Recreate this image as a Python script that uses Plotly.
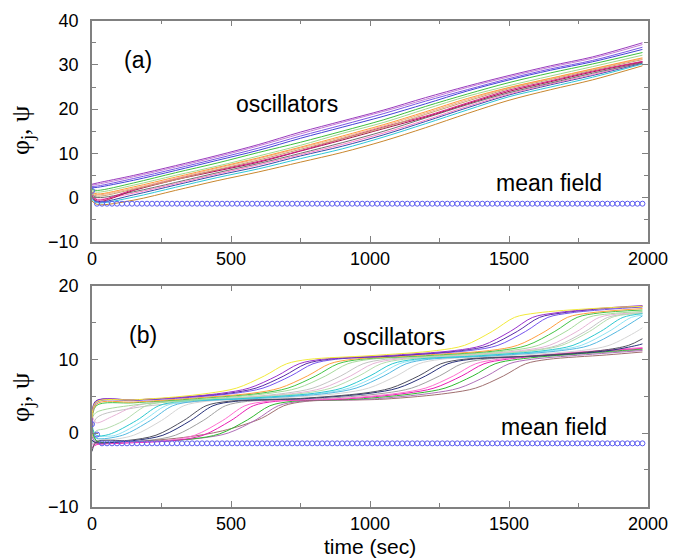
import plotly.graph_objects as go

# ---------------- Panel (a) data ----------------
t_a = [0, 20, 150, 300, 450, 600, 750, 900, 1050, 1200, 1350, 1500, 1650, 1800, 1980]
a_purple   = [3.0, 3.3, 5.0, 7.2, 9.5, 12.0, 14.8, 17.3, 19.8, 22.6, 25.2, 27.6, 29.8, 31.8, 35.0]
a_lilac    = [2.8, 3.0, 4.7, 6.9, 9.2, 11.7, 14.4, 17.0, 19.5, 22.2, 24.9, 27.3, 29.5, 31.5, 34.6]
a_violet   = [2.5, 2.6, 4.3, 6.5, 8.8, 11.2, 13.9, 16.4, 19.0, 21.8, 24.4, 26.9, 29.1, 31.0, 34.0]
a_blue     = [2.2, 2.3, 3.9, 6.1, 8.4, 10.7, 13.4, 15.9, 18.4, 21.2, 24.1, 26.6, 28.8, 30.7, 33.5]
a_green    = [1.8, 1.6, 3.3, 5.6, 7.8, 10.2, 12.5, 15.0, 17.6, 20.6, 23.4, 26.0, 28.2, 30.2, 32.8]
a_ltgreen  = [1.5, 1.2, 2.8, 5.0, 7.1, 9.4, 11.8, 14.5, 17.0, 20.0, 22.9, 25.3, 27.5, 29.6, 32.2]
a_orange   = [1.2, 0.8, 2.4, 4.6, 6.8, 9.0, 11.4, 13.9, 16.5, 19.4, 22.4, 24.9, 27.0, 29.1, 31.6]
a_peach    = [1.0, 0.6, 2.1, 4.3, 6.6, 8.8, 11.2, 13.6, 16.2, 19.1, 22.1, 24.8, 26.9, 29.0, 31.4]
a_tan      = [0.8, 0.3, 1.9, 4.0, 6.3, 8.5, 10.9, 13.3, 15.8, 18.8, 21.8, 24.6, 26.7, 28.8, 31.2]
a_magenta  = [0.5, -0.6, 1.8, 4.2, 6.2, 8.2, 10.6, 13.3, 16.0, 18.4, 21.4, 24.3, 26.4, 28.6, 30.8]
a_crimson  = [0.3, -0.9, 1.6, 4.0, 6.0, 8.0, 10.5, 13.0, 15.6, 18.2, 21.2, 24.0, 26.2, 28.4, 30.7]
a_gray     = [0.6, 0.0, 1.3, 3.4, 5.6, 7.7, 10.0, 12.4, 15.0, 18.0, 21.0, 23.7, 25.9, 28.1, 30.5]
a_pink     = [0.2, -0.4, 1.0, 3.1, 5.3, 7.4, 9.7, 12.0, 14.6, 17.5, 20.6, 23.4, 25.7, 27.8, 30.6]
a_indigo   = [-0.2, -1.0, 0.6, 2.8, 5.0, 7.0, 9.4, 11.6, 14.2, 17.2, 20.3, 23.2, 25.5, 27.6, 30.4]
a_cyan     = [-0.5, -1.2, 0.1, 2.3, 4.5, 6.5, 8.8, 11.0, 13.7, 16.7, 19.8, 22.8, 25.0, 27.2, 30.2]
a_brown    = [-0.8, -1.6, -0.6, 1.6, 3.8, 5.8, 8.0, 10.2, 12.8, 15.8, 19.0, 22.0, 24.4, 26.6, 29.8]

# ---------------- Panel (b) data ----------------
b_yellow_t = [0, 15, 150, 300, 420, 520, 620, 700, 780, 1000, 1240, 1340, 1440, 1520, 1600, 1800, 1980]
b_yellow_v = [2.0, 4.2, 4.5, 4.9, 5.4, 6.1, 7.75, 9.4, 10.0, 10.5, 11.2, 11.9, 13.8, 15.7, 16.3, 16.9, 17.2]
b_purple_t = [0, 15, 150, 300, 465, 565, 665, 745, 825, 1050, 1305, 1405, 1505, 1585, 1665, 1820, 1980]
b_purple_v = [1.0, 4.3, 4.5, 4.8, 5.4, 6.1, 7.75, 9.4, 10.0, 10.5, 11.2, 11.9, 13.8, 15.7, 16.3, 16.9, 17.3]
b_indigo_t = [0, 15, 150, 300, 490, 590, 690, 770, 850, 1100, 1330, 1430, 1530, 1610, 1690, 1840, 1980]
b_indigo_v = [3.0, 4.4, 4.5, 4.8, 5.4, 6.1, 7.75, 9.4, 10.0, 10.5, 11.2, 11.9, 13.8, 15.7, 16.3, 16.9, 17.2]
b_violet_t = [0, 15, 150, 300, 515, 615, 715, 795, 875, 1100, 1360, 1460, 1560, 1640, 1720, 1860, 1980]
b_violet_v = [0.0, 4.1, 4.4, 4.7, 5.4, 6.1, 7.75, 9.4, 10.0, 10.5, 11.2, 11.9, 13.8, 15.7, 16.3, 16.8, 17.1]
b_orange_t = [0, 15, 150, 350, 575, 675, 775, 855, 935, 1150, 1430, 1530, 1630, 1710, 1790, 1980]
b_orange_v = [-0.5, 3.9, 4.2, 4.7, 5.4, 6.1, 7.75, 9.4, 10.0, 10.5, 11.2, 11.9, 13.8, 15.7, 16.3, 16.9]
b_green_t = [0, 15, 150, 350, 605, 705, 805, 885, 965, 1200, 1465, 1565, 1665, 1745, 1825, 1980]
b_green_v = [0.5, 3.7, 4.1, 4.6, 5.4, 6.1, 7.75, 9.4, 10.0, 10.5, 11.2, 11.9, 13.8, 15.7, 16.3, 16.7]
b_ltgreen_t = [0, 15, 150, 350, 640, 740, 840, 920, 1000, 1250, 1505, 1605, 1705, 1785, 1865, 1980]
b_ltgreen_v = [2.0, 2.8, 3.8, 4.4, 5.4, 6.1, 7.75, 9.4, 10.0, 10.5, 11.2, 11.9, 13.8, 15.7, 16.2, 16.5]
b_ltgray_t = [0, 15, 150, 350, 695, 795, 895, 975, 1055, 1300, 1575, 1675, 1775, 1855, 1935, 1980]
b_ltgray_v = [-1.0, 2.0, 3.4, 4.2, 5.4, 6.1, 7.75, 9.4, 10.0, 10.5, 11.2, 11.9, 13.8, 15.7, 16.2, 16.3]
b_ltpink_t = [0, 15, 70, 150, 230, 450, 730, 830, 930, 1010, 1090, 1300, 1545, 1645, 1745, 1825, 1905, 1980]
b_ltpink_v = [2.5, 1.4, 2.2, 3.6, 4.2, 4.6, 5.4, 6.1, 7.75, 9.4, 10.0, 10.5, 11.2, 11.9, 13.8, 15.7, 16.2, 16.3]
b_palegreen_t = [0, 15, 50, 115, 195, 275, 500, 760, 860, 960, 1040, 1120, 1350, 1590, 1690, 1790, 1870, 1950, 1980]
b_palegreen_v = [-0.5, 0.3, 0.6, 1.7, 3.7, 4.3, 4.7, 5.4, 6.1, 7.75, 9.4, 10.0, 10.5, 11.2, 11.9, 13.8, 15.7, 16.2, 16.3]
b_cyan_t = [0, 15, 60, 160, 240, 320, 550, 800, 900, 1000, 1080, 1160, 1400, 1630, 1730, 1830, 1910, 1980]
b_cyan_v = [1.0, -0.3, -0.2, 1.7, 3.7, 4.3, 4.7, 5.4, 6.1, 7.75, 9.4, 10.0, 10.5, 11.2, 11.9, 13.8, 15.7, 16.2]
b_ltcyan_t = [0, 15, 85, 185, 265, 345, 550, 825, 925, 1025, 1105, 1185, 1400, 1660, 1760, 1860, 1940, 1980]
b_ltcyan_v = [-1.5, -0.6, -0.3, 1.7, 3.7, 4.3, 4.7, 5.4, 6.1, 7.75, 9.4, 10.0, 10.5, 11.2, 11.9, 13.8, 15.7, 16.0]
b_sky_t = [0, 15, 110, 210, 290, 370, 600, 850, 950, 1050, 1130, 1210, 1450, 1690, 1790, 1890, 1980]
b_sky_v = [0.0, -0.7, -0.3, 1.7, 3.7, 4.3, 4.7, 5.4, 6.1, 7.75, 9.4, 10.0, 10.5, 11.2, 11.9, 13.8, 15.9]
b_paleg_t = [0, 15, 50, 150, 250, 330, 410, 650, 895, 995, 1095, 1175, 1255, 1500, 1760, 1860, 1960, 1980]
b_paleg_v = [-2.0, -1.0, -1.0, -0.3, 1.7, 3.7, 4.3, 4.7, 5.4, 6.1, 7.75, 9.4, 10.0, 10.5, 11.2, 11.9, 13.8, 14.3]
b_dkgray_t = [0, 15, 130, 230, 330, 410, 490, 750, 975, 1075, 1175, 1255, 1335, 1600, 1830, 1930, 1980]
b_dkgray_v = [-2.5, -1.2, -1.0, -0.3, 1.7, 3.7, 4.3, 4.7, 5.4, 6.1, 7.75, 9.4, 10.0, 10.5, 11.2, 11.9, 12.8]
b_navy_t = [0, 15, 155, 255, 355, 435, 515, 780, 1000, 1100, 1200, 1280, 1360, 1620, 1860, 1960, 1980]
b_navy_v = [-1.0, -1.3, -1.0, -0.3, 1.7, 3.7, 4.3, 4.7, 5.4, 6.1, 7.75, 9.4, 10.0, 10.5, 11.2, 11.9, 12.1]
b_gray_t = [0, 15, 200, 300, 400, 480, 560, 800, 1050, 1150, 1250, 1330, 1410, 1700, 1980]
b_gray_v = [0.5, -1.1, -1.0, -0.3, 1.7, 3.7, 4.3, 4.6, 5.4, 6.1, 7.75, 9.4, 10.0, 10.6, 11.3]
b_pink_t = [0, 15, 100, 270, 370, 470, 550, 630, 900, 1100, 1200, 1300, 1380, 1460, 1720, 1980]
b_pink_v = [-1.5, -1.5, -1.3, -1.0, -0.3, 1.7, 3.7, 4.3, 4.7, 5.4, 6.1, 7.75, 9.4, 10.0, 10.9, 11.6]
b_magenta_t = [0, 15, 100, 300, 400, 500, 580, 660, 900, 1130, 1230, 1330, 1410, 1490, 1740, 1980]
b_magenta_v = [-2.0, -1.6, -1.4, -1.0, -0.3, 1.7, 3.7, 4.3, 4.6, 5.4, 6.1, 7.75, 9.4, 10.0, 10.9, 11.5]
b_green2_t = [0, 15, 100, 360, 460, 560, 640, 720, 950, 1170, 1270, 1370, 1450, 1530, 1760, 1980]
b_green2_v = [1.5, -1.0, -1.2, -0.8, -0.1, 1.8, 3.7, 4.3, 4.6, 5.4, 6.1, 7.75, 9.4, 10.0, 10.8, 11.4]
b_mauve_t = [0, 15, 100, 390, 490, 590, 670, 750, 1000, 1220, 1320, 1420, 1500, 1580, 1800, 1980]
b_mauve_v = [-0.5, -1.3, -1.3, -0.7, 0.0, 1.8, 3.7, 4.3, 4.6, 5.4, 6.1, 7.75, 9.4, 10.0, 10.7, 11.2]
b_brown_t = [0, 15, 100, 330, 470, 610, 690, 770, 1050, 1280, 1380, 1480, 1560, 1640, 1850, 1980]
b_brown_v = [-1.0, -1.4, -1.3, -0.6, 0.3, 2.0, 3.7, 4.3, 4.6, 5.4, 6.1, 7.75, 9.4, 10.0, 10.6, 11.0]

# mean field (open circles)
mf_t = list(range(0, 1990, 18))
mf_a = [1.5] + [-1.4] * (len(mf_t) - 1)
mf_b = [1.2, -0.2] + [-1.4] * (len(mf_t) - 2)

x_ticks = [0, 500, 1000, 1500, 2000]
ya_ticks = [-10, 0, 10, 20, 30, 40]
yb_ticks = [-10, 0, 10, 20]

# ---------------- figure ----------------
fig = go.Figure()

a_series = [
    (a_brown, '#c8872e'), (a_cyan, '#2fc6d6'), (a_indigo, '#3a4aa8'), (a_pink, '#ff7ac4'),
    (a_gray, '#707070'), (a_crimson, '#a8124e'), (a_magenta, '#d42286'), (a_tan, '#c9a06c'),
    (a_peach, '#f2ae8c'), (a_orange, '#ff9a3c'), (a_ltgreen, '#9ed88e'), (a_green, '#3fbf3f'),
    (a_blue, '#4444d6'), (a_violet, '#7a56e4'), (a_lilac, '#c47cd4'), (a_purple, '#9a3cbe'),
]
for vals, col in a_series:
    fig.add_trace(go.Scatter(x=t_a, y=vals, mode='lines', xaxis='x', yaxis='y',
                             line=dict(color=col, width=1, shape='spline', smoothing=0.9),
                             hoverinfo='skip'))
fig.add_trace(go.Scatter(x=mf_t, y=mf_a, mode='markers', xaxis='x', yaxis='y',
                         marker=dict(symbol='circle-open', size=5, color='#5a5af0',
                                     line=dict(width=1, color='#5a5af0'))))

b_series = [
    (b_paleg_t, b_paleg_v, '#d4d4d4'), (b_ltgray_t, b_ltgray_v, '#c4c4c4'),
    (b_ltpink_t, b_ltpink_v, '#e6b4d6'), (b_palegreen_t, b_palegreen_v, '#b4dcae'),
    (b_gray_t, b_gray_v, '#a0a0a0'), (b_ltcyan_t, b_ltcyan_v, '#8ee4f4'),
    (b_sky_t, b_sky_v, '#55b8e0'), (b_cyan_t, b_cyan_v, '#2ec8d0'),
    (b_brown_t, b_brown_v, '#a07070'), (b_mauve_t, b_mauve_v, '#b070b8'),
    (b_green2_t, b_green2_v, '#30b830'), (b_magenta_t, b_magenta_v, '#e81eb4'),
    (b_pink_t, b_pink_v, '#ff6fd0'), (b_navy_t, b_navy_v, '#27307a'),
    (b_dkgray_t, b_dkgray_v, '#50505f'), (b_ltgreen_t, b_ltgreen_v, '#a6da9c'),
    (b_green_t, b_green_v, '#44c444'), (b_orange_t, b_orange_v, '#ffa040'),
    (b_violet_t, b_violet_v, '#7755ee'), (b_indigo_t, b_indigo_v, '#5a2aa8'),
    (b_purple_t, b_purple_v, '#9933cc'), (b_yellow_t, b_yellow_v, '#f2ea3c'),
]
for tt, vv, col in b_series:
    fig.add_trace(go.Scatter(x=tt, y=vv, mode='lines', xaxis='x2', yaxis='y2',
                             line=dict(color=col, width=1, shape='spline', smoothing=0.9),
                             hoverinfo='skip'))
fig.add_trace(go.Scatter(x=mf_t, y=mf_b, mode='markers', xaxis='x2', yaxis='y2',
                         marker=dict(symbol='circle-open', size=5, color='#5a5af0',
                                     line=dict(width=1, color='#5a5af0'))))

W, H = 673, 559
x_dom = [92 / W, 648 / W]
ya_dom = [1 - 241.7 / H, 1 - 20.7 / H]
yb_dom = [1 - 506.7 / H, 1 - 285.7 / H]

axis_common = dict(showline=True, linecolor='#808080', linewidth=1.5, mirror='allticks',
                   ticks='inside', ticklen=6, tickcolor='#808080', tickwidth=1,
                   showgrid=False, zeroline=False, automargin=False,
                   tickfont=dict(family='Liberation Sans, Arial, sans-serif', size=18, color='black'))

fig.update_layout(
    width=W, height=H, margin=dict(l=0, r=0, t=0, b=0, autoexpand=False),
    paper_bgcolor='white', plot_bgcolor='white', showlegend=False,
    xaxis=dict(domain=x_dom, range=[0, 2000], tickvals=x_ticks, anchor='y',
               minor=dict(dtick=250, ticks='inside', ticklen=4, tickcolor='#808080'),
               ticklabelstandoff=0, **axis_common),
    yaxis=dict(domain=ya_dom, range=[-10, 40], tickvals=ya_ticks, anchor='x',
               minor=dict(dtick=5, ticks='inside', ticklen=4, tickcolor='#808080'),
               ticklabelstandoff=8, **axis_common),
    xaxis2=dict(domain=x_dom, range=[0, 2000], tickvals=x_ticks, anchor='y2',
                minor=dict(dtick=250, ticks='inside', ticklen=4, tickcolor='#808080'),
                ticklabelstandoff=0, **axis_common),
    yaxis2=dict(domain=yb_dom, range=[-10, 20], tickvals=yb_ticks, anchor='x2',
                minor=dict(dtick=5, ticks='inside', ticklen=4, tickcolor='#808080'),
                ticklabelstandoff=8, **axis_common),
)

txt_font = dict(family='Liberation Sans, Arial, sans-serif', size=23, color='black')
ann = [
    dict(x=164, y=31.1, xref='x', yref='y', text='(a)'),
    dict(x=703, y=21.1, xref='x', yref='y', text='oscillators'),
    dict(x=1645, y=3.2, xref='x', yref='y', text='mean field'),
    dict(x=182, y=13.3, xref='x2', yref='y2', text='(b)'),
    dict(x=1087, y=13.1, xref='x2', yref='y2', text='oscillators'),
    dict(x=1663, y=0.87, xref='x2', yref='y2', text='mean field'),
]
for a in ann:
    fig.add_annotation(showarrow=False, font=txt_font, xanchor='center', yanchor='middle', **a)

fig.add_annotation(x=370 / W, y=0, xref='paper', yref='paper', text='time (sec)',
                   showarrow=False, borderpad=0,
                   font=dict(family='Liberation Sans, Arial, sans-serif', size=21, color='black'),
                   xanchor='center', yanchor='bottom')
for yc in [1 - 131 / H, 1 - 398 / H]:
    fig.add_annotation(x=22 / W, y=yc, xref='paper', yref='paper',
                       text='φ<sub>j</sub>, ψ', textangle=-90, showarrow=False,
                       font=dict(family='Liberation Serif, Times New Roman, serif', size=26, color='black'),
                       xanchor='center', yanchor='middle')

fig.write_html("out.html")
